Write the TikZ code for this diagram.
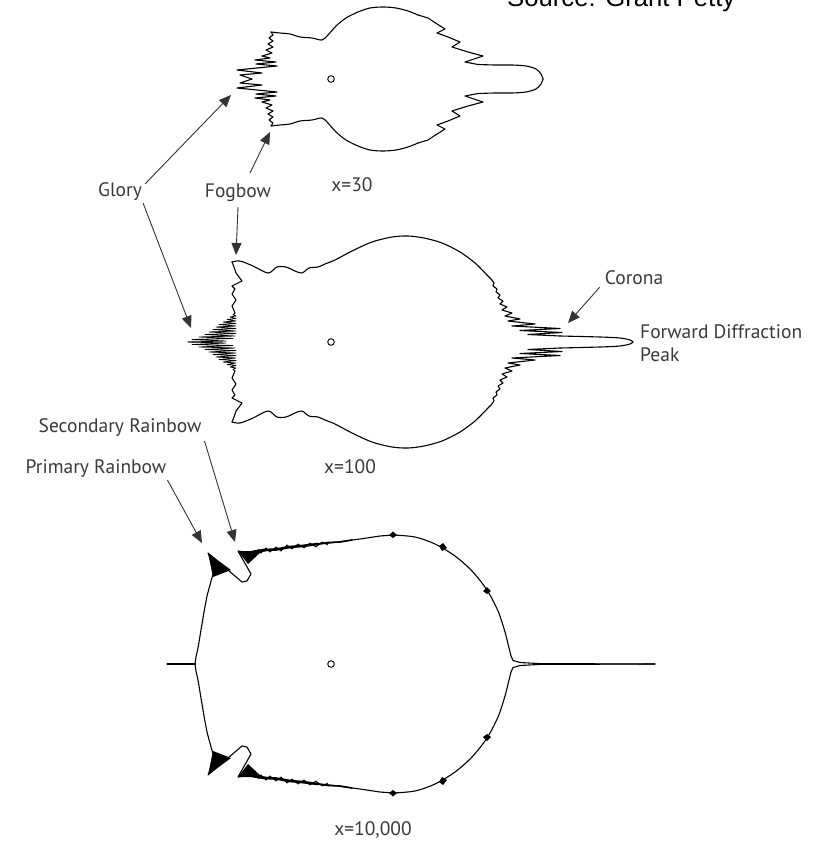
\documentclass[tikz,border=0pt]{standalone}
\usepackage{fontspec}
\setmainfont{PT Sans}
\newfontfamily\srcfont{Liberation Sans}
\usetikzlibrary{arrows.meta}
\definecolor{lblgray}{HTML}{3A3A3A}
\definecolor{arrgray}{HTML}{333333}
\begin{document}
\begin{tikzpicture}[x=1pt,y=-1pt,
  curve/.style={line width=1.1pt, line join=round, line cap=round, black},
  fine/.style={line width=0.8pt, line join=round, line cap=round, black},
  lbl/.style={font=\fontsize{19.5}{22}\selectfont, text=lblgray, inner sep=1pt},
  arr/.style={draw=arrgray, line width=0.9pt, -{Triangle[length=12pt,width=10pt]}},
  dot/.style={line width=0.9pt, black}]
\useasboundingbox (0,0) rectangle (828,843);
\fill[white] (0,0) rectangle (828,843);

% ---------- source ----------
\node[anchor=base west, inner sep=0pt, font=\srcfont\fontsize{25.7}{28}\selectfont] (src) at (507,7) {Source: Grant Petty};

% ---------- x = 30 shape ----------
\foreach \s/\sh in {1/0,-1/158} {
\begin{scope}[shift={(0,\sh)}, yscale=\s]
  \draw[curve] (252,79) -- (240,75) -- (262,73) -- (237,70) -- (257,68) -- (277,66) -- (256,64) -- (276,62) -- (255,60) -- (270,58) -- (262,56) -- (272,53) -- (266,50) -- (273,47) -- (268,44) -- (273,41) -- (269,38) -- (273,35) -- (271,32);
  \draw[curve] plot[smooth, tension=0.5] coordinates {(271,32) (280,33) (290,34) (300,37) (312,38) (322,40) (328,35) (336,26) (346,18) (358,12) (370,8) (383,7) (396,8) (408,11) (418,15)};
  \draw[curve] (418,15) -- (428,18) -- (434,22) -- (445,29) -- (437,33) -- (448,37) -- (460,42) -- (452,47) -- (468,52) -- (483,56) -- (465,62) -- (478,64.5);
  \draw[curve] plot[smooth, tension=0.5] coordinates {(478,64.5) (495,65) (512,65) (526,66) (536,69) (541,74) (543,79)};
\end{scope}
}
\draw[dot] (331,79) circle[radius=3.3];

% ---------- x = 100 shape ----------
\foreach \s/\sh in {1/0,-1/684} {
\begin{scope}[shift={(0,\sh)}, yscale=\s]
  \draw[fine] (188,342) -- (226,341) -- (192,339.5) -- (233,338.5) -- (199,337) -- (235,336) -- (205,334.5) -- (236,333.5) -- (209,332) -- (236,331) -- (213,329.5) -- (236,328.5) -- (216,327) -- (236,326) -- (219,324.5) -- (236,323.5) -- (223,322) -- (236,321) -- (227,319.5) -- (236,318.5) -- (230,317) -- (236,316) -- (233,314.5) -- (235,313);
  \draw[curve] (235,313) -- (232,306) -- (236,300) -- (232,294) -- (235,289) -- (232,286) -- (242,281) -- (236,273) -- (234,267) -- (232,262);
  \draw[curve] plot[smooth, tension=0.5] coordinates {(232,262) (240,261) (253,266) (268,273) (277,267) (286,267) (295,271) (302,273) (309,268) (318,267) (325,264) (335,260) (352,251) (372,242) (392,237) (408,236) (424,238) (442,243) (460,252) (475,263) (487,275)};
  \draw[curve] (487,275) -- (491,279) -- (494,283) -- (493,286) -- (497,289) -- (496,292) -- (500,295) -- (498,298) -- (503,301) -- (500,304) -- (507,307) -- (502,310) -- (512,313) -- (505,316) -- (520,319) -- (508,321) -- (535,324) -- (512,326) -- (560,328.5) -- (520,330.5) -- (562,332.5) -- (528,334.5) -- (560,336);
  \draw[curve] plot[smooth, tension=0.5] coordinates {(560,336) (600,337) (620,338) (630,340) (633,342)};
\end{scope}
}
\draw[dot] (331,342) circle[radius=3.3];

% ---------- x = 10,000 shape ----------
\draw[curve] (167,664) -- (195,664);
\foreach \s/\sh in {1/0,-1/1328} {
\begin{scope}[shift={(0,\sh)}, yscale=\s]
  \draw[curve] (195,664) -- (196,657) -- (198,648) -- (201,630) -- (204,612) -- (207,596) -- (211,581) -- (215,568) -- (208,553) -- (242,582) -- (247,581) -- (251,574) -- (238,551) -- (252,553) -- (270,550) -- (300,546) -- (330,543) -- (360,539) -- (380,536) -- (393,535);
  \draw[curve] plot[smooth, tension=0.5] coordinates {(393,535) (415,537) (435,544) (455,556) (472,571) (487,590) (498,611) (505,632) (509,648) (511,656)};
  \draw[curve] (511,656) -- (513,660.5) -- (520,662.5) -- (540,663.6) -- (655,664);
  % rainbow blobs
  \fill (208,553) -- (231,570) -- (213,577) -- cycle;
  \fill (238,551) -- (262,551) -- (248,564) -- cycle;
  \draw[line width=2.6pt, line cap=round] (252,552) -- (264,550) -- (276,549.5) -- (290,547) -- (302,546) -- (318,544);
  \draw[line width=1.6pt, line cap=round] (318,544) -- (328,542.5) -- (340,542) -- (352,540);
  \draw[line width=0.8pt] (258,549) -- (261,553) -- (266,548) -- (270,552) -- (276,547) -- (281,551) -- (287,545) -- (292,549) -- (298,544) -- (304,548) -- (310,543) -- (316,547) -- (322,542) -- (328,545);
  % small ticks on arc
  \fill (389,535) -- (393,531.5) -- (397,535) -- (393,538) -- cycle;
  \fill (439,546) -- (443,543) -- (447,548) -- (442,551) -- cycle;
  \fill (483,591) -- (487,587) -- (491,591) -- (487,594) -- cycle;
\end{scope}
}
\draw[dot] (331,664) circle[radius=3.3];

% ---------- labels ----------
\node[lbl] (glory) at (120,192) {Glory};
\node[lbl] (fogbow) at (238,193) {Fogbow};
\node[lbl] (x30) at (352,185) {x=30};
\node[lbl] (corona) at (634,278) {Corona};
\node[lbl, anchor=west] (fwd) at (639,332) {Forward Diffraction};
\node[lbl, anchor=west] (peak) at (639,355) {Peak};
\node[lbl] (x100) at (350,467) {x=100};
\node[lbl] (secondary) at (120,428) {Secondary Rainbow};
\node[lbl] (primary) at (96,469) {Primary Rainbow};
\node[lbl] (x10000) at (373,830) {x=10,000};

% ---------- arrow tips ----------
\coordinate (gloryTipA) at (231,95);
\coordinate (gloryTipB) at (191,328);
\coordinate (fogTipA) at (270,132);
\coordinate (fogTipB) at (236,255);
\coordinate (coronaTip) at (568,323);
\coordinate (secTip) at (235,542);
\coordinate (priTip) at (202,543);

\draw[arr] ([xshift=2pt,yshift=-2pt]glory.north east) -- (gloryTipA);
\draw[arr] ([yshift=-1pt]glory.south east) -- (gloryTipB);
\draw[arr] ([xshift=12pt,yshift=10pt]fogbow.north) -- (fogTipA);
\draw[arr] ([yshift=-4pt]fogbow.south) -- (fogTipB);
\draw[arr] ([xshift=-4pt,yshift=-1pt]corona.south west) -- (coronaTip);
\draw[arr] ([xshift=2pt,yshift=-3pt]secondary.south east) -- (secTip);
\draw[arr] ([yshift=-1pt]primary.south east) -- (priTip);
\end{tikzpicture}
\end{document}
